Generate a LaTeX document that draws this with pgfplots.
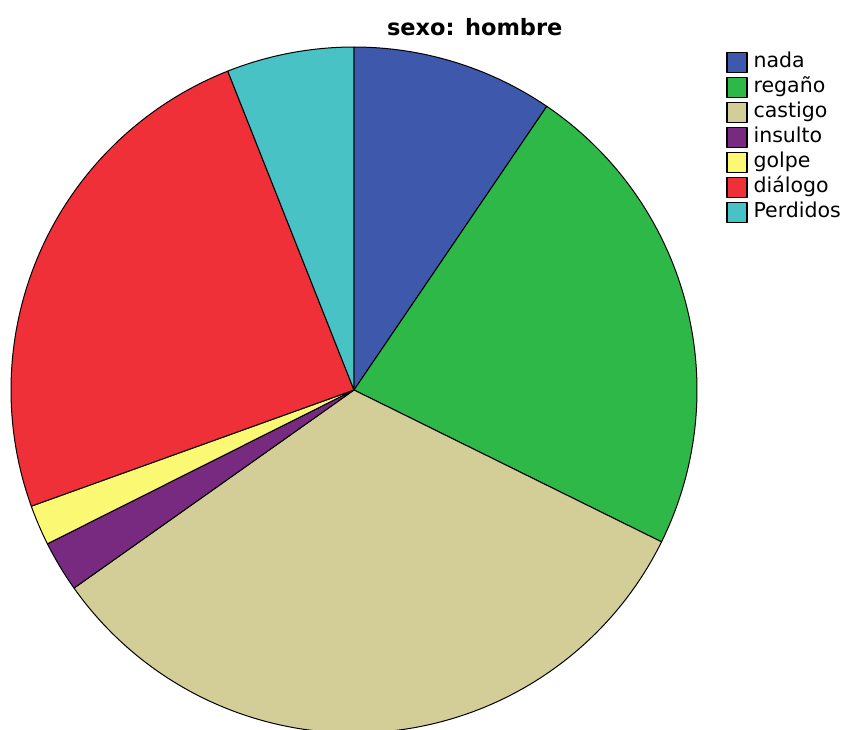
\documentclass[border=0pt]{standalone}
\usepackage{pgfplots}
\pgfplotsset{compat=1.18}
\usepackage{pgfplotstable}
\usepgfplotslibrary{polar}
\usepackage{fontspec}
\setmainfont{DejaVu Sans}
\definecolor{cnada}{HTML}{3E58AC}
\definecolor{cregano}{HTML}{2EB848}
\definecolor{ccastigo}{HTML}{D3CE97}
\definecolor{cinsulto}{HTML}{782A80}
\definecolor{cgolpe}{HTML}{FBF873}
\definecolor{cdialogo}{HTML}{EF3038}
\definecolor{cperdidos}{HTML}{48C2C5}
\pgfplotstableread{
idx value
0 9.5
1 22.8
2 32.9
3 2.4
4 1.9
5 24.5
6 6.0
}\piedata
\newcommand\pieslice[2]{%
  \edef\tmp{\noexpand\addplot[fill=#2, draw=black, line width=1pt, line join=round,
    domain=\csname e#1\endcsname:\csname s#1\endcsname, samples=120] {1} -- (axis cs:0,0) -- cycle;}%
  \tmp}
\begin{document}
\begin{tikzpicture}
\path[use as bounding box] (0pt,0pt) rectangle (844pt,-729pt);
\gdef\cum{0}
\foreach \i in {0,...,6}{%
  \pgfplotstablegetelem{\i}{value}\of\piedata
  \pgfmathsetmacro\sa{90-3.6*\cum}%
  \pgfmathsetmacro\nc{\cum+\pgfplotsretval}%
  \pgfmathsetmacro\ea{90-3.6*\nc}%
  \expandafter\xdef\csname s\i\endcsname{\sa}%
  \expandafter\xdef\csname e\i\endcsname{\ea}%
  \xdef\cum{\nc}%
}
\begin{polaraxis}[
  at={(354pt,-390pt)}, anchor=center,
  scale only axis, width=686pt, height=686pt,
  xmin=0, xmax=360, ymin=0, ymax=1,
  hide axis, clip=false,
  title={\bfseries sexo: hombre},
  title style={at={(axis description cs:0.676,1.0073)}, anchor=center, font=\fontsize{22.5}{26}\selectfont},
  legend cell align=left,
  legend image code/.code={\draw[#1, draw=black, line width=1.4pt] (0pt,-10pt) rectangle (20pt,10pt);},
  legend style={at={(axis description cs:1.0379,0.9964)}, anchor=north west,
    draw=none, fill=none, font=\fontsize{20.5}{22}\selectfont,
    row sep=3pt, column sep=5pt,
    nodes={inner sep=1pt, text depth=5pt, text height=15pt}},
]
\pieslice{0}{cnada}\addlegendentry{nada}
\pieslice{1}{cregano}\addlegendentry{regaño}
\pieslice{2}{ccastigo}\addlegendentry{castigo}
\pieslice{3}{cinsulto}\addlegendentry{insulto}
\pieslice{4}{cgolpe}\addlegendentry{golpe}
\pieslice{5}{cdialogo}\addlegendentry{diálogo}
\pieslice{6}{cperdidos}\addlegendentry{Perdidos}
\end{polaraxis}
\end{tikzpicture}
\end{document}
